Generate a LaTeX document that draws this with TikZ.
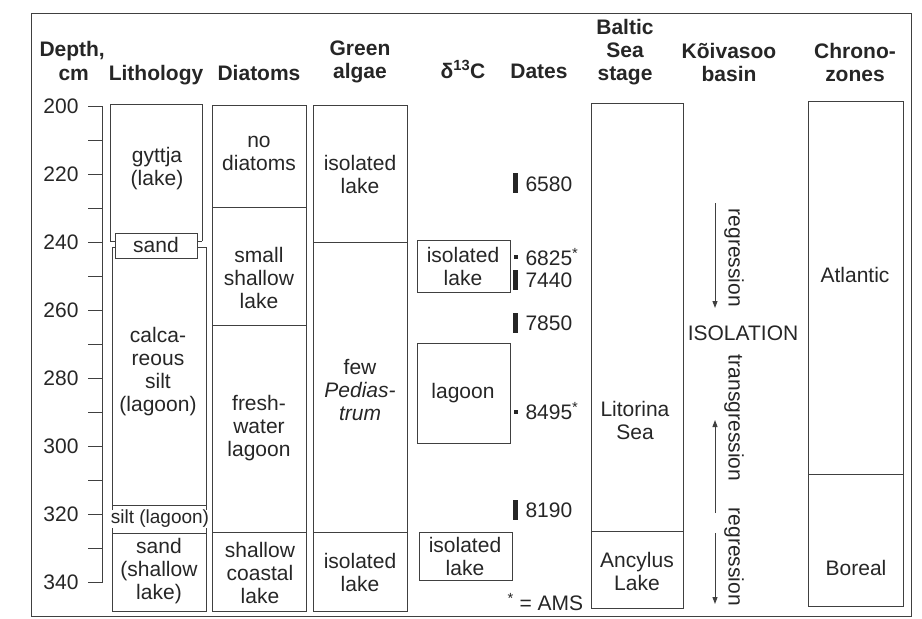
\documentclass[tikz,border=0pt]{standalone}
\usepackage{fontspec}
\setmainfont{Liberation Sans}
\usetikzlibrary{arrows.meta}

\begin{document}
\begin{tikzpicture}[x=1pt, y=-1pt,
        color=black!75, line width=1pt,
        lbl/.style={font=\fontsize{21}{23}\selectfont, text=black!85, align=center, inner sep=0pt},
        head/.style={lbl, font=\fontsize{21}{23}\selectfont\bfseries},
        datebar/.style={fill=black!85},
        arrow/.style={-{Triangle[width=5pt,length=7pt]}, line width=1pt}
    ]
        \useasboundingbox (0,0) rectangle (922,619);
        \draw (31,13) rectangle (911,616);

        % Headers
        \node[head, anchor=base west] (hdepth) at (39,56) {Depth,};
        \node[head, anchor=base west] (hcm) at (58,80) {cm};
        \node[head, anchor=base] (hlith) at (156,80) {Lithology};
        \node[head, anchor=base] (hdiat) at (259,80) {Diatoms};
        \node[head] (halgae) at (360,62) {Green\\algae};
        \node[head, anchor=base] (hcarb) at (463,78) {δ\textsuperscript{13}C};
        \node[head, anchor=base] (hdates) at (539,78) {Dates};
        \node[head] (hbaltic) at (625,52) {Baltic\\Sea\\stage};
        \node[head] (hbasin) at (729,62) {Kõivasoo\\basin};
        \node[head] (hchrono) at (855,62) {Chrono-\\zones};

        % Depth axis
        \draw (88,106) -- (102,106) -- (102,582) -- (88,582);
        \foreach \k in {1,...,13}
            \draw (88,106+34*\k) -- (102,106+34*\k);
        \foreach \d [count=\k from 0] in {200,220,...,340}
            \node[lbl, anchor=east] (d\d) at (79,106+68*\k) {\d};

        % Lithology
        \draw (110,241) -- (110,104) -- (202,104) -- (202,241);
        \draw (115,233) rectangle (197,258);
        \draw (110,241) -- (115,241) (202,241) -- (197,241);
        \draw (115,247) -- (112,247) -- (112,611) -- (206,611) -- (206,247) -- (197,247);
        \draw (112,505) -- (206,505) (112,533) -- (206,533);
        \node[lbl] (gyttja) at (157,169) {gyttja\\(lake)};
        \node[lbl] (sandA) at (156,245) {sand};
        \node[lbl] (calc) at (158,372) {calca-\\reous\\silt\\(lagoon)};
        \node[lbl, fill=white, inner sep=0.5pt, font=\fontsize{19}{21}\selectfont] (siltB) at (160,519) {silt (lagoon)};
        \node[lbl] (sandB) at (159,571) {sand\\(shallow\\lake)};

        % Diatoms
        \draw (212,105) rectangle (306,611);
        \draw (212,207) -- (306,207) (212,325) -- (306,325) (212,532) -- (306,532);
        \node[lbl] (nodiat) at (259,153) {no\\diatoms};
        \node[lbl] (small) at (259,278) {small\\shallow\\lake};
        \node[lbl] (fresh) at (259,428) {fresh-\\water\\lagoon};
        \node[lbl] (coastal) at (260,573) {shallow\\coastal\\lake};

        % Green algae
        \draw (313,105) rectangle (407,611);
        \draw (313,242) -- (407,242) (313,532) -- (407,532);
        \node[lbl] (algA) at (360,174) {isolated\\lake};
        \node[lbl] (algB) at (360,390) {few\\\textit{Pedias-}\\\textit{trum}};
        \node[lbl] (algC) at (360,572) {isolated\\lake};

        % delta 13C
        \draw (417,240) rectangle (510,292);
        \node[lbl] (carbA) at (463,266) {isolated\\lake};
        \draw (417,343) rectangle (510,443);
        \node[lbl] (carbB) at (463,393) {lagoon};
        \draw (419,532) rectangle (512,580);
        \node[lbl] (carbC) at (465,556) {isolated\\lake};

        % Dates
        \fill[datebar] (513,173) rectangle (518,193);
        \fill[datebar] (513,270) rectangle (518,290);
        \fill[datebar] (513,313) rectangle (518,333);
        \fill[datebar] (513,500) rectangle (518,520);
        \fill[datebar] (514,255) rectangle (518,259);
        \fill[datebar] (514,410) rectangle (518,414);
        \node[lbl, anchor=west] (dt6580) at (525,184) {6580};
        \node[lbl, anchor=west] (dt6825) at (525,257) {6825\textsuperscript{*}};
        \node[lbl, anchor=west] (dt7440) at (525,280) {7440};
        \node[lbl, anchor=west] (dt7850) at (525,323) {7850};
        \node[lbl, anchor=west] (dt8495) at (525,411) {8495\textsuperscript{*}};
        \node[lbl, anchor=west] (dt8190) at (525,510) {8190};
        \node[lbl, anchor=west] (ams) at (507,602) {\textsuperscript{*} = AMS};

        % Baltic Sea stage
        \draw (591,103) rectangle (683,608);
        \draw (591,531) -- (683,531);
        \node[lbl] (litorina) at (635,420) {Litorina\\Sea};
        \node[lbl] (ancylus) at (637,571) {Ancylus\\Lake};

        % Koivasoo basin
        \coordinate (regAs) at (715,203);
        \coordinate (regAe) at (715,308);
        \coordinate (trs) at (715,513);
        \coordinate (tre) at (715,420);
        \coordinate (regBs) at (715,533);
        \coordinate (regBe) at (715,604);
        \draw[arrow] (regAs) -- (regAe);
        \draw[arrow] (trs) -- (tre);
        \draw[arrow] (regBs) -- (regBe);
        \node[lbl, rotate=-90] (regA) at (734,258) {regression};
        \node[lbl] (isol) at (743,333) {ISOLATION};
        \node[lbl, rotate=-90] (transg) at (734,418) {transgression};
        \node[lbl, rotate=-90] (regB) at (734,557) {regression};

        % Chronozones
        \draw (808,101) rectangle (903,606);
        \draw (808,474) -- (903,474);
        \node[lbl] (atlantic) at (855,275) {Atlantic};
        \node[lbl] (boreal) at (856,568) {Boreal};
    \end{tikzpicture}
\end{document}
